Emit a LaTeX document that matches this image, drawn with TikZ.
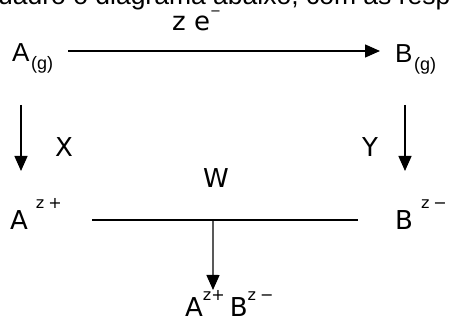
\documentclass[tikz,border=0pt]{standalone}
\usepackage{fontspec}
\setmainfont{Liberation Sans}
\newfontfamily\djv{DejaVu Sans}
\usetikzlibrary{arrows.meta,calc}
\newcommand\mysub[1]{\hspace{1.5pt}\raisebox{-8pt}{\fontsize{18}{18}\selectfont #1}}
\newcommand\mysup[1]{\raisebox{21pt}{\fontsize{16}{16}\selectfont #1}}
\newcommand\mylowsup[1]{\raisebox{16pt}{\fontsize{16}{16}\selectfont #1}}
\begin{document}
\begin{tikzpicture}[x=1pt,y=-1pt,
  lab/.style={inner sep=0pt, anchor=base west, font=\fontsize{26}{26}\selectfont},
  dlab/.style={inner sep=0pt, anchor=base west, font=\djv\fontsize{26}{26}\selectfont},
  arr/.style={line width=1.4pt, -{Triangle[length=15pt,width=13pt]}},
  plain/.style={line width=1.4pt}]
\useasboundingbox (0,0) rectangle (451,323);
\clip (0,0) rectangle (451,323);
\node[lab] (hdr) at (-2,5) {\fontsize{26.5}{26.5}\selectfont uadro o diagrama abaixo, com as resp};
\node[lab] (Ag) at (12,62) {A\mysub{(g)}};
\node[lab] (Bg) at (395,63) {B\mysub{(g)}};
\node[dlab] (ze) at (172,31) {z e\raisebox{15pt}{\fontsize{13}{13}\selectfont −}};
\node[dlab] (X) at (55,157) {X};
\node[dlab] (Y) at (362,157) {Y};
\node[dlab] (W) at (203,188) {W};
\node[dlab] (Az) at (10,230) {A\hspace{8pt}\mysup{z\hspace{4pt}+}};
\node[dlab] (Bz) at (395,230) {B\hspace{8pt}\mysup{z\hspace{4pt}−}};
\node[dlab] (AB) at (185,317) {A\mylowsup{z+}\hspace{5pt}B\mylowsup{z\hspace{4pt}−}};
% connectors
\draw[arr] ($(Ag.base west)+(56,-11)$) -- ($(Bg.base west)+(-15,-12)$);
\draw[arr] ($(Ag.base west)+(9,43)$) -- ($(Az.base west)+(11,-59)$);
\draw[arr] ($(Bg.base west)+(10,42)$) -- ($(Bz.base west)+(10,-59)$);
\coordinate (l1) at ($(Az.base west)+(82,-10)$);
\coordinate (l2) at ($(Bz.base west)+(-37,-10)$);
\draw[plain] (l1) -- (l2);
\coordinate (m) at ($(l1)!0.455!(l2)$);
\draw[arr] (m) -- ($(AB.base west)+(28,-27)$);
\end{tikzpicture}
\end{document}
